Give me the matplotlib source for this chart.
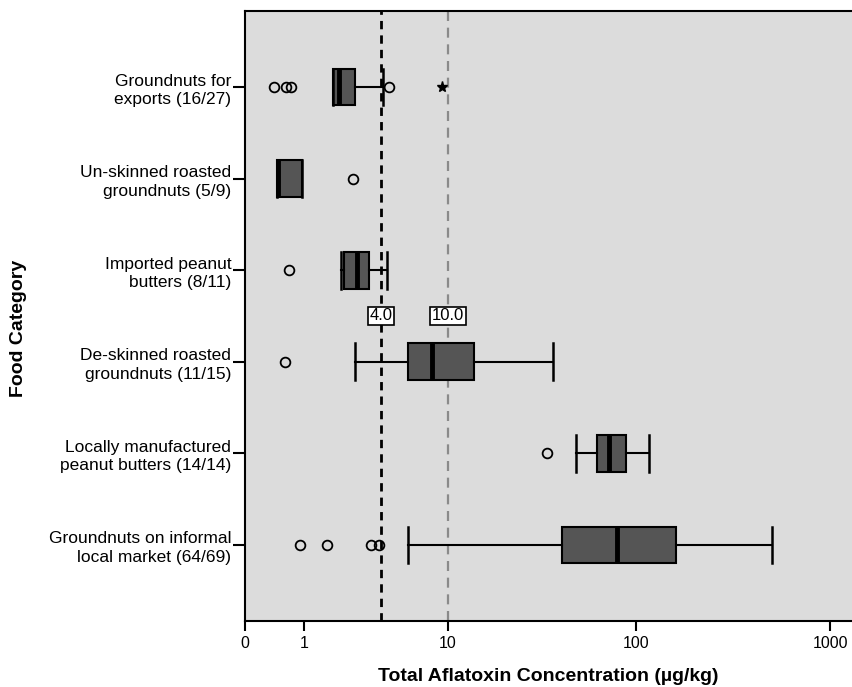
import numpy as np
import matplotlib.pyplot as plt
import matplotlib.transforms as mtransforms

plt.rcParams['font.family'] = ['Liberation Sans', 'DejaVu Sans']

# food categories, top to bottom
categories = ['Groundnuts for\nexports (16/27)',
              'Un-skinned roasted\ngroundnuts (5/9)',
              'Imported peanut\nbutters (8/11)',
              'De-skinned roasted\ngroundnuts (11/15)',
              'Locally manufactured\npeanut butters (14/14)',
              'Groundnuts on informal\nlocal market (64/69)']

# box statistics (ug/kg)
whislo = [1.82, 0.455, 2.12, 2.66, 48.8, 5.85]
q1 = [1.82, 0.455, 2.23, 5.85, 63.1, 41.4]
med = [2.05, 0.47, 2.74, 8.06, 72.6, 79.6]
q3 = [2.66, 0.954, 3.32, 13.9, 88.6, 161.0]
whishi = [4.12, 0.954, 4.33, 37.1, 117.0, 501.0]
outliers = [[0.413, 0.623, 0.715, 4.47],
            [2.57],
            [0.687],
            [0.604],
            [34.4],
            [0.915, 1.62, 3.41, 3.87]]
extremes = [[9.28], [], [], [], [], []]

limits = [4.0, 10.0]
xticks = [0, 1, 10, 100, 1000]


def fwd(x):
    return np.log10(np.maximum(x, -0.999) + 1)


def inv(t):
    return 10 ** t - 1


fig = plt.figure(figsize=(8.52, 6.87), dpi=100)
ax = fig.add_axes([0.2876, 0.0961, 0.7124, 0.8879])
ax.set_facecolor('#dcdcdc')
ax.set_xscale('function', functions=(fwd, inv))

pos = np.arange(1, len(categories) + 1)
stats = []
for i in range(len(categories)):
    stats.append(dict(med=med[i], q1=q1[i], q3=q3[i], whislo=whislo[i],
                      whishi=whishi[i], fliers=outliers[i]))

ax.bxp(stats, positions=pos, vert=False, widths=0.4, capwidths=0.4,
       patch_artist=True,
       boxprops=dict(facecolor='#555555', edgecolor='black', linewidth=1.5),
       medianprops=dict(color='black', linewidth=3.5),
       whiskerprops=dict(color='black', linewidth=1.5),
       capprops=dict(color='black', linewidth=1.8),
       flierprops=dict(marker='o', markerfacecolor='none', markeredgecolor='black',
                       markersize=7, markeredgewidth=1.3),
       zorder=3)

for i, ex in enumerate(extremes):
    if ex:
        ax.plot(ex, [pos[i]] * len(ex), linestyle='none', marker='*', color='black',
                markersize=8, zorder=4)

ax.axvline(limits[0], color='black', linestyle=(0, (3, 2.2)), linewidth=2, zorder=2)
ax.axvline(limits[1], color='#8a8a8a', linestyle=(0, (4.5, 3)), linewidth=1.6, zorder=2)
for v in limits:
    ax.text(v, 3.5, '%.1f' % v, ha='center', va='center', fontsize=12, zorder=5,
            bbox=dict(boxstyle='square,pad=0.1', facecolor='white', edgecolor='black',
                      linewidth=1.2))

ax.set_xlim(0, inv(3.113))
ax.set_ylim(6.83, 0.17)
ax.set_xticks(xticks)
ax.set_xticklabels([str(t) for t in xticks], fontsize=11.5)
ax.xaxis.set_minor_locator(plt.NullLocator())
ax.set_yticks(pos)
ax.set_yticklabels(categories, fontsize=12.5, linespacing=1.3)
offset = mtransforms.ScaledTranslation(0, -4 / 100, fig.dpi_scale_trans)
for lab in ax.get_yticklabels():
    lab.set_transform(lab.get_transform() + offset)

ax.tick_params(axis='y', length=9, width=1.5, pad=1)
ax.tick_params(axis='x', length=7, width=1.5, pad=4)
ax.spines['right'].set_visible(False)
for s in ['left', 'bottom', 'top']:
    ax.spines[s].set_linewidth(1.5)

ax.set_xlabel('Total Aflatoxin Concentration (µg/kg)', fontsize=14, fontweight='bold',
              labelpad=12)
ax.set_ylabel('Food Category', fontsize=14, fontweight='bold')
ax.yaxis.set_label_coords(-0.36, 0.48)

fig.savefig('out.png', dpi=100)
